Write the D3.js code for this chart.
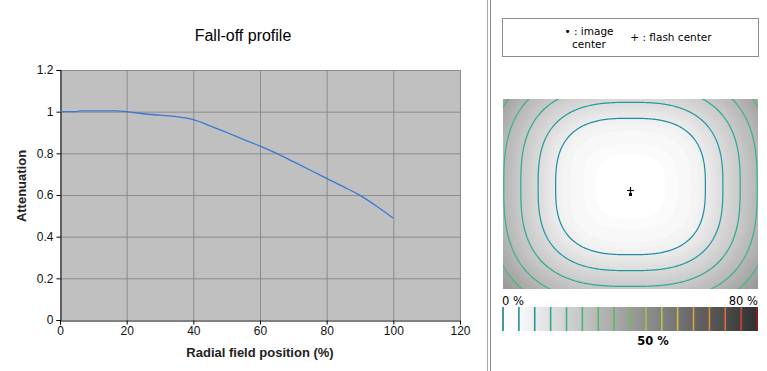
<!DOCTYPE html>
<html>
<head>
<meta charset="utf-8">
<script src="https://cdn.jsdelivr.net/npm/d3@7"></script>
<style>
  body { margin: 0; background: #fff; }
  svg { display: block; }
</style>
</head>
<body>
<svg id="chart" width="767" height="371"></svg>
<script>
// fall-off profile
var radialPos = [0, 5, 6, 17, 20, 25, 30, 35, 40, 45, 50, 55, 60, 65, 70, 75, 80, 85, 90, 95, 100];
var attenuation = [1.0, 1.0, 1.004, 1.004, 1.0, 0.99, 0.983, 0.976, 0.962, 0.932, 0.9, 0.867, 0.835, 0.8, 0.76, 0.72, 0.68, 0.64, 0.598, 0.546, 0.488];

var xTicks = [0, 20, 40, 60, 80, 100, 120];
var yTicks = [0, 0.2, 0.4, 0.6, 0.8, 1, 1.2];

// contour levels (% fall-off) and their colours in the scale bar
var levels = [0, 5, 10, 15, 20, 25, 30, 35, 40, 45, 50, 55, 60, 65, 70, 75, 80];
var levelColors = ["#1b7b8b", "#1f8ca2", "#22999f", "#2aab92", "#38b67e", "#3ebd72", "#48c066", "#50c05a",
                   "#6cc04c", "#98c646", "#b8c244", "#d2bc40", "#dc9e3e", "#de8c3c", "#dc6e38", "#cc4430", "#9a1c1c"];

var svg = d3.select("#chart");

// ---------- left: line chart ----------
var x = d3.scaleLinear().domain([0, 120]).range([60, 460]);
var y = d3.scaleLinear().domain([0, 1.2]).range([320, 70]);

svg.append("rect").attr("x", 60).attr("y", 70).attr("width", 400).attr("height", 250).attr("fill", "#c0c0c0");

svg.append("g").selectAll("line").data(xTicks.slice(1)).join("line")
  .attr("x1", d => x(d) + 0.5).attr("x2", d => x(d) + 0.5)
  .attr("y1", 70).attr("y2", 320)
  .attr("stroke", "#8c8c8c");
svg.append("g").selectAll("line").data(yTicks.slice(1)).join("line")
  .attr("x1", 60).attr("x2", 460)
  .attr("y1", d => y(d) + 0.5).attr("y2", d => y(d) + 0.5)
  .attr("stroke", "#8c8c8c");

var xAxis = svg.append("g").attr("transform", "translate(0,320.5)")
  .call(d3.axisBottom(x).tickValues(xTicks).tickSize(4).tickPadding(2).tickFormat(d3.format("d")));
var yAxis = svg.append("g").attr("transform", "translate(60.5,0)")
  .call(d3.axisLeft(y).tickValues(yTicks).tickSize(4).tickPadding(3).tickFormat(d => d === 0 || d === 1 ? d : d3.format(".1f")(d)));
[xAxis, yAxis].forEach(function(g) {
  g.select(".domain").attr("stroke", "#000");
  g.selectAll(".tick line").attr("stroke", "#000");
  g.selectAll("text").attr("font-family", "Liberation Sans, Arial, sans-serif").attr("font-size", 12).attr("fill", "#111");
});

var line = d3.line().x(d => x(d[0])).y(d => y(d[1])).curve(d3.curveMonotoneX);
svg.append("path")
  .datum(d3.zip(radialPos, attenuation))
  .attr("d", line)
  .attr("fill", "none")
  .attr("stroke", "#3b78d4")
  .attr("stroke-width", 1.3);

svg.append("text").attr("x", 243).attr("y", 41).attr("text-anchor", "middle")
  .attr("font-family", "Liberation Sans, Arial, sans-serif").attr("font-size", 16)
  .text("Fall-off profile");
svg.append("text").attr("x", 260).attr("y", 357).attr("text-anchor", "middle")
  .attr("font-family", "Liberation Sans, Arial, sans-serif").attr("font-size", 13).attr("font-weight", "bold")
  .attr("fill", "#222")
  .text("Radial field position (%)");
svg.append("text").attr("transform", "translate(26,186) rotate(-90)").attr("text-anchor", "middle")
  .attr("font-family", "Liberation Sans, Arial, sans-serif").attr("font-size", 13).attr("font-weight", "bold")
  .attr("fill", "#222")
  .text("Attenuation");

// divider
svg.append("line").attr("x1", 487.5).attr("x2", 487.5).attr("y1", 0).attr("y2", 371).attr("stroke", "#a8a8a8");
svg.append("line").attr("x1", 490.5).attr("x2", 490.5).attr("y1", 0).attr("y2", 371).attr("stroke", "#8c8c8c");

// ---------- right: legend box ----------
var font2 = "DejaVu Sans, Verdana, sans-serif";
svg.append("rect").attr("x", 502.5).attr("y", 18.5).attr("width", 256).attr("height", 38)
  .attr("fill", "#fff").attr("stroke", "#8c8c8c");
var lg = svg.append("g").attr("font-family", font2).attr("font-size", 10.5).attr("fill", "#000");
lg.append("text").attr("x", 589).attr("y", 35).attr("text-anchor", "middle").text("\u2022 : image");
lg.append("text").attr("x", 589).attr("y", 48).attr("text-anchor", "middle").text("center");
lg.append("text").attr("x", 671).attr("y", 41).attr("text-anchor", "middle").text("+ : flash center");

// ---------- right: fall-off map ----------
// the map is rebuilt from the profile: radial position -> attenuation
var img = {x: 503, y: 99, w: 255, h: 190};
var cx = 630, cy = 186, sx = 213, sy = 194, p = 2.8, q = 0.83;
var profile = d3.scaleLinear().domain(radialPos).range(attenuation);
var gray = d3.scaleLinear().domain([0, 32]).range(["#ffffff", "#8c8c8c"]).clamp(true);

var pad = 3, gw = img.w + 2 * pad, gh = img.h + 2 * pad;
var values = new Array(gw * gh);
for (var j = 0; j < gh; j++) {
  for (var i = 0; i < gw; i++) {
    var dx = Math.abs(img.x - pad + i - cx) / sx,
        dy = Math.abs(img.y - pad + j - cy) / sy;
    var r = Math.pow(Math.pow(dx, p) + Math.pow(dy, p), 1 / p);
    values[j * gw + i] = (1 - profile(100 * Math.pow(r, q))) * 100;
  }
}

svg.append("clipPath").attr("id", "imgclip")
  .append("rect").attr("x", img.x).attr("y", img.y).attr("width", img.w).attr("height", img.h);

var geo = d3.geoPath(d3.geoIdentity().translate([img.x - pad, img.y - pad]));
var mapG = svg.append("g").attr("clip-path", "url(#imgclip)");
mapG.append("rect").attr("x", img.x).attr("y", img.y).attr("width", img.w).attr("height", img.h).attr("fill", "#fff");

var bands = d3.contours().size([gw, gh]).thresholds(d3.range(0.5, 50, 1))(values);
mapG.selectAll("path.band").data(bands).join("path")
  .attr("class", "band")
  .attr("d", geo)
  .attr("fill", d => gray(d.value + 0.5));

var lineLevels = levels.slice(1);
var iso = d3.contours().size([gw, gh]).thresholds(lineLevels)(values);
mapG.selectAll("path.iso").data(iso).join("path")
  .attr("class", "iso")
  .attr("d", geo)
  .attr("fill", "none")
  .attr("stroke", d => levelColors[levels.indexOf(d.value)])
  .attr("stroke-width", 1.2);

// centre markers
svg.append("path").attr("d", "M630.5,187v7M627,190.5h7").attr("stroke", "#000").attr("stroke-width", 1.2);
svg.append("rect").attr("x", 629).attr("y", 193).attr("width", 3).attr("height", 3).attr("fill", "#000");

// ---------- right: scale bar ----------
var bar = {y: 307, h: 24};
var sc = d3.scaleLinear().domain([0, 80]).range([503, 757]);
var defs = svg.append("defs");
var grad = defs.append("linearGradient").attr("id", "barGrad");
grad.append("stop").attr("offset", "0%").attr("stop-color", "#ffffff");
grad.append("stop").attr("offset", "6%").attr("stop-color", "#fbfbfb");
grad.append("stop").attr("offset", "100%").attr("stop-color", "#303030");
svg.append("rect").attr("x", 502).attr("y", bar.y).attr("width", 256).attr("height", bar.h).attr("fill", "url(#barGrad)");

svg.append("g").selectAll("line").data(levels).join("line")
  .attr("x1", d => sc(d)).attr("x2", d => sc(d))
  .attr("y1", bar.y).attr("y2", bar.y + bar.h)
  .attr("stroke", (d, k) => levelColors[k])
  .attr("stroke-width", 1.6);

var bt = svg.append("g").attr("font-family", font2).attr("font-size", 11.5).attr("fill", "#000");
bt.append("text").attr("x", 502).attr("y", 305).text("0 %");
bt.append("text").attr("x", 758).attr("y", 305).attr("text-anchor", "end").text("80 %");
bt.append("text").attr("x", 653).attr("y", 345).attr("text-anchor", "middle").attr("font-weight", "bold").text("50 %");
</script>
</body>
</html>
